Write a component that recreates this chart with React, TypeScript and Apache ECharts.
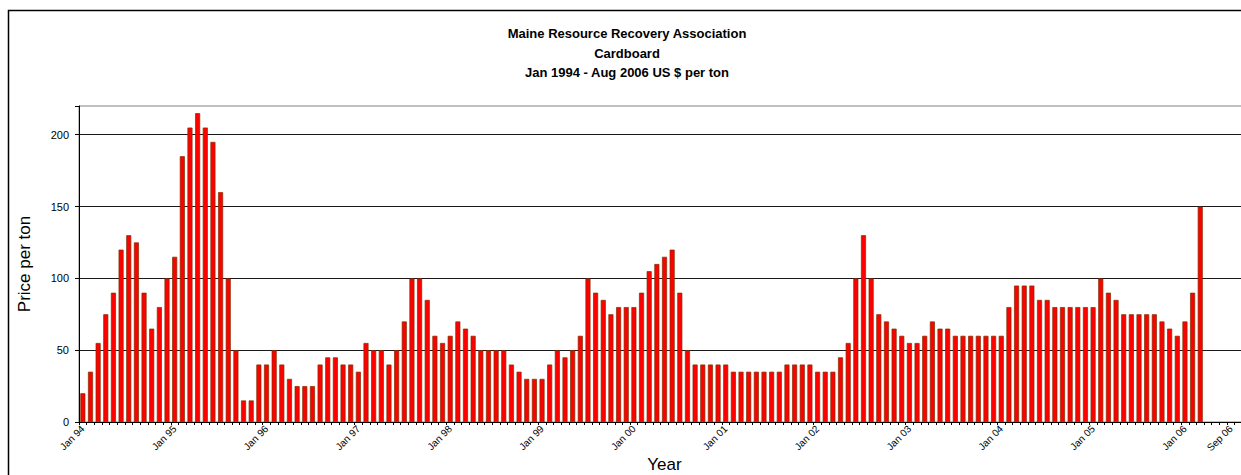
import React, { useEffect, useRef } from "react";
import * as echarts from "echarts";

const titleLines = [
  "Maine Resource Recovery Association",
  "Cardboard",
  "Jan 1994 - Aug 2006 US $ per ton",
];

const monthNames = ["Jan", "Feb", "Mar", "Apr", "May", "Jun", "Jul", "Aug", "Sep", "Oct", "Nov", "Dec"];
const slotCount = 153;
const categories: string[] = Array.from({ length: slotCount }, (_, i) =>
  `${monthNames[i % 12]} ${String((94 + Math.floor(i / 12)) % 100).padStart(2, "0")}`
);

const prices = [
  20, 35, 55, 75, 90, 120, 130, 125, 90, 65, 80, 100,
  115, 185, 205, 215, 205, 195, 160, 100, 50, 15, 15, 40,
  40, 50, 40, 30, 25, 25, 25, 40, 45, 45, 40, 40,
  35, 55, 50, 50, 40, 50, 70, 100, 100, 85, 60, 55,
  60, 70, 65, 60, 50, 50, 50, 50, 40, 35, 30, 30,
  30, 40, 50, 45, 50, 60, 100, 90, 85, 75, 80, 80,
  80, 90, 105, 110, 115, 120, 90, 50, 40, 40, 40, 40,
  40, 35, 35, 35, 35, 35, 35, 35, 40, 40, 40, 40,
  35, 35, 35, 45, 55, 100, 130, 100, 75, 70, 65, 60,
  55, 55, 60, 70, 65, 65, 60, 60, 60, 60, 60, 60,
  60, 80, 95, 95, 95, 85, 85, 80, 80, 80, 80, 80,
  80, 100, 90, 85, 75, 75, 75, 75, 75, 70, 65, 60,
  70, 90, 150,
];

const tickLabels = [
  "Jan 94", "Jan 95", "Jan 96", "Jan 97", "Jan 98", "Jan 99", "Jan 00",
  "Jan 01", "Jan 02", "Jan 03", "Jan 04", "Jan 05", "Jan 06", "Sep 06",
];
const tickPositions = [0, 12, 24, 36, 48, 60, 72, 84, 96, 108, 120, 132, 144, 150];

const yTicks = [0, 50, 100, 150, 200];
const yMax = 220;

const FONT = "'Liberation Sans', Arial, sans-serif";

export default function App() {
  const ref = useRef<HTMLDivElement>(null);

  useEffect(() => {
    if (!ref.current) return;
    const chart = echarts.init(ref.current, undefined, { renderer: "svg" });
    chart.setOption({
      animation: false,
      backgroundColor: "#ffffff",
      textStyle: { fontFamily: FONT },
      title: {
        text: titleLines.join("\n"),
        left: 627,
        top: 24,
        padding: 0,
        textAlign: "center",
        textStyle: {
          fontFamily: FONT,
          fontSize: 13,
          fontWeight: "bold",
          color: "#000",
          lineHeight: 19.5,
        },
      },
      graphic: [
        {
          type: "rect",
          shape: { x: 8.5, y: 10.5, width: 1300, height: 600 },
          style: { fill: "none", stroke: "#000", lineWidth: 1.5 },
          silent: true,
        },
      ],
      grid: {
        left: 79,
        top: 106,
        width: 1171,
        bottom: 53,
        containLabel: false,
        outerBoundsMode: "none",
        show: true,
        borderColor: "#808080",
        borderWidth: 1,
        backgroundColor: "transparent",
      },
      xAxis: {
        type: "category",
        data: categories,
        boundaryGap: true,
        name: "Year",
        nameLocation: "middle",
        nameGap: 34,
        nameMoveOverlap: false,
        nameTextStyle: {
          fontFamily: FONT,
          fontSize: 17,
          color: "#000",
        },
        axisLine: { show: true, lineStyle: { color: "#000", width: 1 } },
        axisTick: { show: true, interval: 0, length: 3, inside: false, lineStyle: { color: "#000" } },
        axisLabel: {
          interval: (i: number) => tickPositions.indexOf(i) >= 0,
          formatter: (_v: string, i: number) => {
            const k = tickPositions.indexOf(i);
            return k >= 0 ? tickLabels[k] : "";
          },
          rotate: 45,
          fontFamily: FONT,
          fontSize: 10,
          color: "#000",
          margin: 5,
        },
        splitLine: { show: false },
      },
      yAxis: {
        type: "value",
        min: 0,
        max: yMax,
        interval: 50,
        name: "Price per ton",
        nameLocation: "middle",
        nameRotate: 90,
        nameGap: 46,
        nameMoveOverlap: false,
        nameTextStyle: { fontFamily: FONT, fontSize: 17, color: "#000" },
        axisLine: { show: true, lineStyle: { color: "#000", width: 1 } },
        axisTick: { show: true, length: 4, lineStyle: { color: "#000" } },
        axisLabel: {
          formatter: (v: number) => (yTicks.indexOf(v) >= 0 ? String(v) : ""),
          fontFamily: FONT,
          fontSize: 11,
          color: "#000",
          margin: 10,
        },
        splitLine: {
          show: true,
          showMaxLine: false,
          lineStyle: { color: "#1a1a1a", width: 1 },
        },
      },
      series: [
        {
          type: "bar",
          data: prices,
          barWidth: 5,
          itemStyle: { color: "#ff0000", borderColor: "#7a3000", borderWidth: 0.7 },
        },
      ],
    });
    return () => chart.dispose();
  }, []);

  return (
    <div
      ref={ref}
      style={{ position: "absolute", left: 0, top: 0, width: 1241, height: 475, background: "#fff" }}
    />
  );
}
